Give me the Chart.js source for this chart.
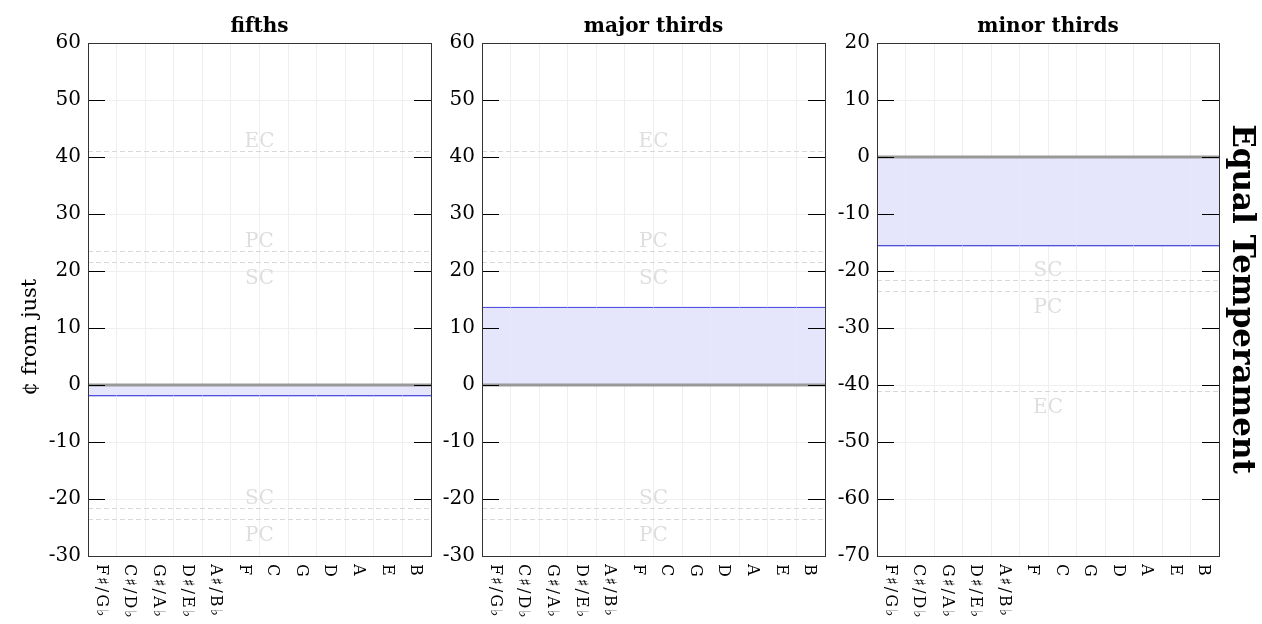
<!DOCTYPE html>
<html><head><meta charset="utf-8">
<script src="https://cdn.jsdelivr.net/npm/chart.js@4"></script>
<style>
html,body{margin:0;padding:0;background:#fff;width:1262px;height:624px;overflow:hidden}
canvas{position:absolute;left:0;top:0}
</style></head><body>
<canvas id="c0" width="1262" height="624"></canvas>
<canvas id="c1" width="1262" height="624"></canvas>
<canvas id="c2" width="1262" height="624"></canvas>
<script>
// ---- data ----
const notes = ['F♯/G♭','C♯/D♭','G♯/A♭','D♯/E♭','A♯/B♭','F','C','G','D','A','E','B'];
const panelTitles = ['fifths','major thirds','minor thirds'];
const fifthsCents      = [-1.96,-1.96,-1.96,-1.96,-1.96,-1.96,-1.96,-1.96,-1.96,-1.96,-1.96,-1.96];
const majorThirdsCents = [13.69,13.69,13.69,13.69,13.69,13.69,13.69,13.69,13.69,13.69,13.69,13.69];
const minorThirdsCents = [-15.64,-15.64,-15.64,-15.64,-15.64,-15.64,-15.64,-15.64,-15.64,-15.64,-15.64,-15.64];
const commaNames = ['SC','PC','EC'];
const commaCents = [21.51, 23.46, 41.06];
const yMins = [-30, -30, -70];
const yMaxs = [60, 60, 20];
const yTickStep = 10;
const yAxisTitle = '¢ from just';
const sideTitle = 'Equal Temperament';

// ---- layout / style ----
const series = [fifthsCents, majorThirdsCents, minorThirdsCents];
const panelLeft = [88, 482, 877];
const panelRight = [431, 825, 1219];
const PT = 43, PB = 556, W = 1262, H = 624, YAXW = 40;
const SERIF = '"DejaVu Serif", "Liberation Serif", serif';
const refs = [];
commaNames.forEach((n,i)=>{ refs.push({n, v: commaCents[i]}); refs.push({n, v: -commaCents[i]}); });

function decor(idx){
  return {
    id: 'decor'+idx,
    beforeDatasetsDraw(chart){
      const ctx = chart.ctx, a = chart.chartArea, y = chart.scales.y;
      ctx.save();
      ctx.beginPath(); ctx.rect(a.left, a.top, a.right-a.left, a.bottom-a.top); ctx.clip();
      ctx.strokeStyle = '#d8d8d8'; ctx.lineWidth = 1; ctx.setLineDash([5,3]);
      ctx.font = '20px ' + SERIF; ctx.fillStyle = '#dedede'; ctx.textAlign = 'center'; ctx.textBaseline = 'alphabetic';
      const cx = (a.left + a.right)/2;
      refs.forEach(r=>{
        if (r.v < y.min || r.v > y.max) return;
        const py = Math.round(y.getPixelForValue(r.v)) + 0.5;
        ctx.beginPath(); ctx.moveTo(a.left, py); ctx.lineTo(a.right, py); ctx.stroke();
        const above = (r.v > 0) !== (r.n === 'SC');
        ctx.fillText(r.n, cx, above ? py - 5 : py + 21);
      });
      ctx.restore();
    },
    afterDatasetsDraw(chart){
      const ctx = chart.ctx, a = chart.chartArea, y = chart.scales.y, x = chart.scales.x;
      ctx.save();
      // zero line
      const y0 = y.getPixelForValue(0);
      ctx.strokeStyle = '#999'; ctx.lineWidth = 3;
      ctx.beginPath(); ctx.moveTo(a.left, y0); ctx.lineTo(a.right, y0); ctx.stroke();
      // inward ticks
      ctx.strokeStyle = '#000'; ctx.lineWidth = 1;
      y.ticks.forEach(t=>{
        if (t.value === y.min || t.value === y.max) return;
        const py = Math.round(y.getPixelForValue(t.value)) + 0.5;
        ctx.beginPath();
        ctx.moveTo(a.left, py); ctx.lineTo(a.left + 17, py);
        ctx.moveTo(a.right - 17, py); ctx.lineTo(a.right, py);
        ctx.stroke();
      });
      // frame
      ctx.strokeStyle = '#333'; ctx.lineWidth = 1;
      ctx.strokeRect(Math.round(a.left)+0.5, Math.round(a.top)+0.5, Math.round(a.right-a.left), Math.round(a.bottom-a.top));
      // title
      ctx.fillStyle = '#000';
      ctx.font = 'bold 20px ' + SERIF; ctx.textAlign = 'center'; ctx.textBaseline = 'alphabetic';
      ctx.fillText(panelTitles[idx], (a.left + a.right)/2, 32);
      // x labels rotated clockwise
      ctx.font = '16px ' + SERIF; ctx.textAlign = 'left';
      try { ctx.letterSpacing = '2px'; } catch(e) {}
      chart.data.labels.forEach((lab, i)=>{
        const px = x.getPixelForTick(i);
        ctx.save(); ctx.translate(px - 5.5, a.bottom + 8); ctx.rotate(Math.PI/2);
        ctx.fillText(lab, 0, 0); ctx.restore();
      });
      try { ctx.letterSpacing = '0px'; } catch(e) {}
      if (idx === 0) {
        ctx.save(); ctx.font = '21px ' + SERIF; ctx.textAlign = 'center';
        ctx.translate(36, 337); ctx.rotate(-Math.PI/2); ctx.fillText(yAxisTitle, 0, 0); ctx.restore();
      }
      if (idx === 2) {
        ctx.save(); ctx.font = 'bold 31px ' + SERIF; ctx.textAlign = 'center';
        ctx.translate(1233, 299); ctx.rotate(Math.PI/2); ctx.fillText(sideTitle, 0, 0); ctx.restore();
      }
      ctx.restore();
    }
  };
}

for (let i = 0; i < 3; i++) {
  new Chart(document.getElementById('c'+i), {
    type: 'bar',
    data: {
      labels: notes,
      datasets: [{
        data: series[i],
        backgroundColor: 'rgb(229,229,252)',
        borderColor: 'rgb(30,30,215)',
        borderWidth: {top:1.2, bottom:1.2, left:0, right:0},
        borderSkipped: 'start',
        barPercentage: 1, categoryPercentage: 1
      }]
    },
    options: {
      responsive: false, animation: false, devicePixelRatio: 1, events: [],
      layout: { padding: { left: panelLeft[i] - YAXW, right: W - panelRight[i], top: PT, bottom: H - PB } },
      plugins: { legend: {display:false}, tooltip: {enabled:false}, title: {display:false} },
      scales: {
        x: { type: 'category', offset: true,
             grid: { offset: true, color: '#efefef', drawTicks: false },
             border: { display: false }, ticks: { display: false },
             afterFit(s){ s.height = 0; } },
        y: { min: yMins[i], max: yMaxs[i],
             ticks: { stepSize: yTickStep, color: '#000', font: { family: 'DejaVu Serif', size: 20 }, padding: 7 },
             grid: { color: '#efefef', drawTicks: false },
             border: { display: false },
             afterFit(s){ s.width = YAXW; } }
      }
    },
    plugins: [decor(i)]
  });
}
</script>
</body></html>
